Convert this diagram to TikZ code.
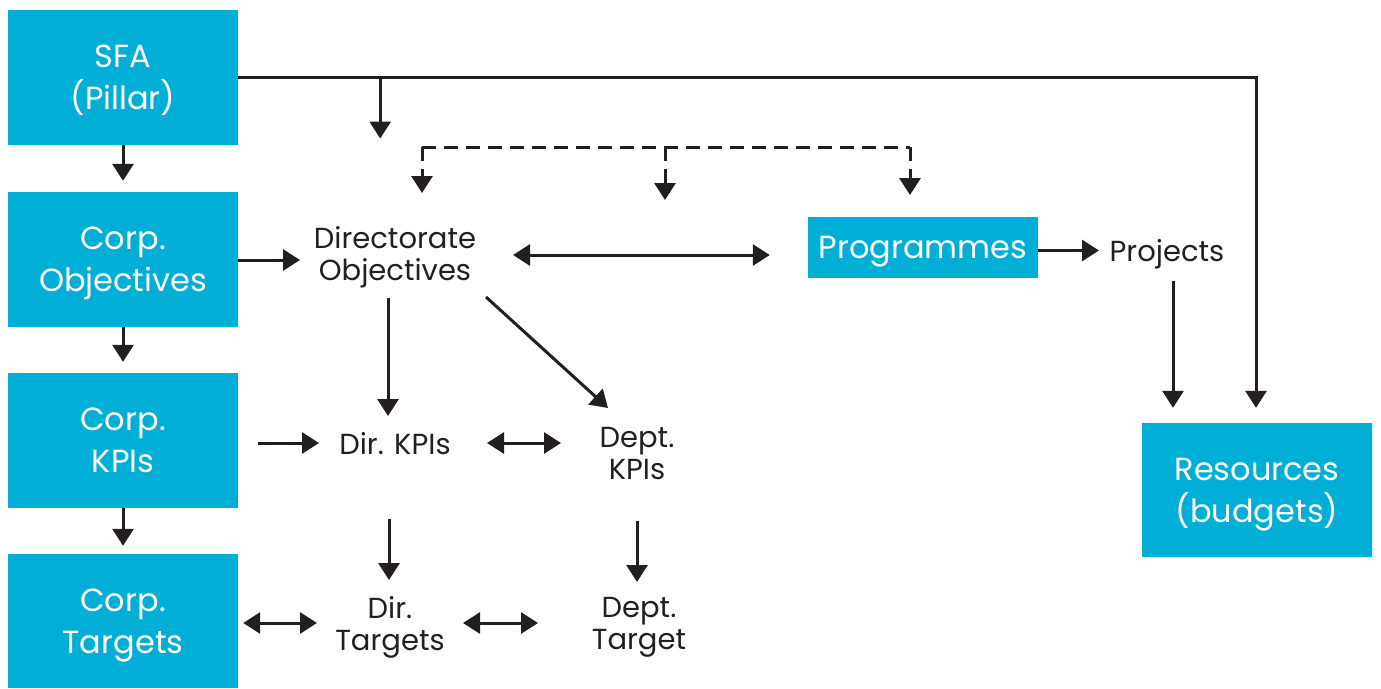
\documentclass[tikz,border=0pt]{standalone}
\usepackage{fontspec}
\setmainfont{Poppins}
\usetikzlibrary{calc}
\usetikzlibrary{arrows.meta}
\definecolor{pillarBlue}{HTML}{00AED6}
\definecolor{lineDark}{HTML}{231F20}
\newcommand{\boxFont}{\fontsize{32}{42}\selectfont}
\newcommand{\lblFont}{\fontsize{29}{32}\selectfont}
\tikzset{
    bluebox/.style={rectangle, fill=pillarBlue, text=white, minimum width=230pt, minimum height=135pt, inner sep=0pt, text depth=0pt, align=center, font=\boxFont},
    lbl/.style={inner sep=0pt, text depth=0pt, align=center, text=lineDark, font=\lblFont},
    arr/.style={-{Triangle[width=21pt,length=17pt]}, line width=3pt, draw=lineDark},
    darr/.style={{Triangle[width=21pt,length=17pt]}-{Triangle[width=21pt,length=17pt]}, line width=3pt, draw=lineDark},
    dsh/.style={dash pattern=on 14pt off 8pt, line width=3pt, draw=lineDark},
}

\begin{document}
\begin{tikzpicture}[x=1pt, y=-1pt]
    \useasboundingbox (0,0) rectangle (1381,688);

    \node (sfa) [bluebox] at (123,77.5) {SFA\\(Pillar)};
    \node (cobj) [bluebox] at (123,259.5) {Corp.\\Objectives};
    \node (ckpi) [bluebox] at (123,440.5) {Corp.\\KPIs};
    \node (ctgt) [bluebox, minimum height=134pt] at (123,621) {Corp.\\Targets};
    \node (prog) [bluebox, minimum height=61pt] at (923,247.5) {Programmes};
    \node (res) [bluebox, minimum height=134pt] at (1257,490) {Resources\\(budgets)};

    \node (dobj) [lbl] at (395,253) {Directorate\\Objectives};
    \node (proj) [lbl] at (1167,250) {Projects};
    \node (dkpi) [lbl] at (395,443) {Dir. KPIs};
    \node (depkpi) [lbl] at (637,453) {Dept.\\KPIs};
    \node (dtgt) [lbl] at (390,623) {Dir.\\Targets};
    \node (deptgt) [lbl] at (639,623) {Dept.\\Target};

    % corporate column
    \draw [arr, shorten >=11pt] (sfa.south) -- (cobj.north);
    \draw [arr, shorten >=11pt] (cobj.south) -- (ckpi.north);
    \draw [arr, shorten >=8pt] (ckpi.south) -- (ctgt.north);

    % SFA feeds
    \draw [arr] (sfa.east) -| ($(res.north)+(-1,-15)$);
    \coordinate (fork) at ($(sfa.east)+(142,0)$);
    \draw [arr] (fork) -- ++(0,61);

    % dashed bracket
    \coordinate (brLeft) at (422,147);
    \coordinate (brMid) at (665,147);
    \coordinate (brRight) at (910,147);
    \draw [dsh] (brLeft) -- (brRight);
    \draw [dsh, arr] (brLeft) -- ++(0,46);
    \draw [dsh, arr] (brMid) -- ++(0,53);
    \draw [dsh, arr] (brRight) -- ++(0,48);

    \draw [arr] ($(cobj.east)+(0,0.5)$) -- ($(dobj.center)+(-95,7)$);
    \draw [darr] ($(dobj.center)+(118,2)$) -- ($(prog.west)+(-38,7.5)$);
    \draw [arr] ($(prog.east)+(0,3)$) -- ($(proj.center)+(-68,0.5)$);
    \draw [arr] ($(proj.center)+(6,31)$) -- ($(res.north)+(-84,-15)$);

    \draw [arr] ($(dobj.center)+(-7,45)$) -- ($(dkpi.center)+(-7,-27)$);
    \draw [arr] ($(dobj.center)+(91,44)$) -- ($(depkpi.center)+(-29,-45)$);

    \draw [arr] ($(ckpi.east)+(20,2.5)$) -- ($(dkpi.center)+(-76,0)$);
    \draw [darr] ($(dkpi.center)+(92,0)$) -- ($(depkpi.center)+(-76,-10)$);
    \draw [arr] ($(dkpi.center)+(-6,76)$) -- ($(dtgt.center)+(-1,-43)$);
    \draw [arr] ($(depkpi.center)+(0,68)$) -- ($(deptgt.center)+(-2,-41)$);

    \draw [darr] ($(ctgt.east)+(5,2)$) -- ($(dtgt.center)+(-73,0)$);
    \draw [darr] ($(dtgt.center)+(73,0)$) -- ($(deptgt.center)+(-101,0)$);
\end{tikzpicture}
\end{document}
